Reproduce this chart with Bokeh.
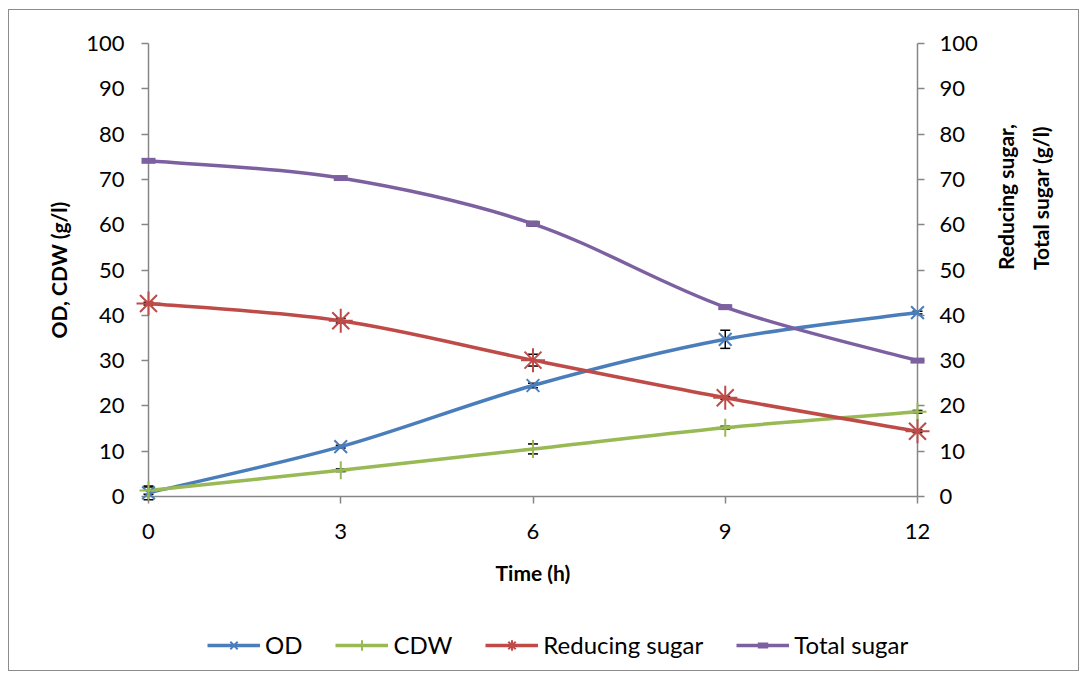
import math
import numpy as np
from bokeh.plotting import figure
from bokeh.models import (Range1d, LinearAxis, FixedTicker, Legend, LegendItem,
                          Whisker, TeeHead, ColumnDataSource)
from bokeh.embed import file_html
from bokeh.resources import INLINE

# ---- data ----
time_h = [0, 3, 6, 9, 12]
od = [0.8, 11.0, 24.5, 34.7, 40.6]
cdw = [1.3, 5.8, 10.5, 15.2, 18.7]
reducing_sugar = [42.6, 38.8, 30.1, 21.8, 14.4]
total_sugar = [74.1, 70.3, 60.2, 41.8, 30.0]
od_err = [1.5, 0.3, 0.5, 2.0, 0.3]
cdw_err = [0.8, 0.3, 1.1, 0.3, 0.3]
rs_err = [0.3, 0.5, 1.3, 0.3, 0.3]
ts_err = [0.3, 0.3, 0.5, 0.4, 0.3]
x_ticks = [0, 3, 6, 9, 12]
y_ticks = list(range(0, 101, 10))

BLUE = "#4A7EBB"
GREEN = "#98B954"
RED = "#BE4B48"
PURPLE = "#7D60A0"
AXIS = "#868686"
FONT = "Lato"

# The frame covers the whole chart box; the axes are pinned at x=0, x=12
# and y=0 and bounded, so that nothing outside the data area is clipped.
FIG_W, FIG_H = 1069, 660
PLOT_L, PLOT_R = 139, 908      # where x=0 and x=12 sit inside the figure
PLOT_T, PLOT_B = 33, 486       # where y=100 and y=0 sit inside the figure
x_scale = 12.0 / (PLOT_R - PLOT_L)
y_scale = 100.0 / (PLOT_B - PLOT_T)
x_range = Range1d(-PLOT_L * x_scale, 12 + (FIG_W - PLOT_R) * x_scale)
y_range = Range1d(-(FIG_H - PLOT_B) * y_scale, 100 + PLOT_T * y_scale)

p = figure(width=FIG_W, height=FIG_H, x_range=x_range, y_range=y_range,
           output_backend="svg", toolbar_location=None, min_border=0)
p.margin = (10, 0, 0, 9)
p.styles = {"outline": "1px solid #8c8c8c"}
p.outline_line_color = None
p.xgrid.visible = False
p.ygrid.visible = False


def style_axis(ax):
    ax.axis_line_color = AXIS
    ax.axis_line_width = 1.5
    ax.major_tick_line_color = AXIS
    ax.major_tick_line_width = 1.5
    ax.major_tick_out = 7
    ax.major_tick_in = 0
    ax.minor_tick_line_color = None
    ax.major_label_text_font = FONT
    ax.major_label_text_font_size = "22px"
    ax.major_label_text_color = "black"
    ax.axis_label_text_font = FONT
    ax.axis_label_text_font_style = "bold"
    ax.axis_label_text_font_size = "21px"
    ax.axis_label_text_color = "black"


xa = p.xaxis[0]
style_axis(xa)
xa.ticker = FixedTicker(ticks=x_ticks)
xa.bounds = (0, 12)
xa.fixed_location = 0
xa.axis_label = "Time (h)"
xa.major_label_standoff = 20
xa.axis_label_standoff = 18

ya = p.yaxis[0]
style_axis(ya)
ya.ticker = FixedTicker(ticks=y_ticks)
ya.bounds = (0, 100)
ya.fixed_location = 0
ya.axis_label = "OD, CDW (g/l)"
ya.major_label_standoff = 17
ya.axis_label_standoff = 12

ry = LinearAxis(ticker=FixedTicker(ticks=y_ticks), bounds=(0, 100),
                fixed_location=12,
                axis_label="Reducing sugar,\nTotal sugar   (g/l)")
style_axis(ry)
ry.major_label_standoff = 15
ry.axis_label_standoff = 42
ry.axis_label_orientation = math.pi / 2
ry.axis_label_text_line_height = 1.4
p.add_layout(ry, "right")


def bezier_parts(xs, ys):
    P = np.column_stack([np.asarray(xs, float), np.asarray(ys, float)])
    n = len(P)
    x0, y0, x1, y1, cx0, cy0, cx1, cy1 = ([] for _ in range(8))
    for i in range(n - 1):
        pm = P[max(i - 1, 0)]
        pa = P[i]
        pb = P[i + 1]
        pn = P[min(i + 2, n - 1)]
        c0 = pa + (pb - pm) / 6.0
        c1 = pb - (pn - pa) / 6.0
        x0.append(pa[0]); y0.append(pa[1]); x1.append(pb[0]); y1.append(pb[1])
        cx0.append(c0[0]); cy0.append(c0[1]); cx1.append(c1[0]); cy1.append(c1[1])
    return dict(x0=x0, y0=y0, x1=x1, y1=y1, cx0=cx0, cy0=cy0, cx1=cx1, cy1=cy1)


series = [
    ("OD", od, od_err, BLUE, "x", 18, 2),
    ("CDW", cdw, cdw_err, GREEN, "cross", 18, 2),
    ("Reducing sugar", reducing_sugar, rs_err, RED, "asterisk", 24, 2),
    ("Total sugar", total_sugar, ts_err, PURPLE, "dash", 14, 6),
]

items = []
for name, ys, errs, color, marker, msize, mlw in series:
    curve = p.bezier(source=ColumnDataSource(bezier_parts(time_h, ys)),
                     x0="x0", y0="y0", x1="x1", y1="y1",
                     cx0="cx0", cy0="cy0", cx1="cx1", cy1="cy1",
                     line_color=color, line_width=3.5)
    src = ColumnDataSource(dict(x=time_h, y=ys,
                                lo=[v - e for v, e in zip(ys, errs)],
                                hi=[v + e for v, e in zip(ys, errs)]))
    w = Whisker(source=src, base="x", upper="hi", lower="lo",
                line_color="black", line_width=1.5,
                upper_head=TeeHead(size=10, line_color="black", line_width=1.5),
                lower_head=TeeHead(size=10, line_color="black", line_width=1.5))
    p.add_layout(w)
    marks = p.scatter("x", "y", source=src, marker=marker, size=msize,
                      line_color=color, fill_color=color, line_width=mlw,
                      level="overlay")
    items.append(LegendItem(label=name, renderers=[curve, marks]))

legend = Legend(items=items, orientation="horizontal", location=(198, 11),
                label_text_font=FONT, label_text_font_size="24px",
                label_text_color="black", glyph_width=53, glyph_height=26,
                spacing=33, label_standoff=5, border_line_color=None,
                background_fill_alpha=0, margin=0, padding=0)
p.add_layout(legend, "center")

open("out.html", "w").write(file_html(p, INLINE))
